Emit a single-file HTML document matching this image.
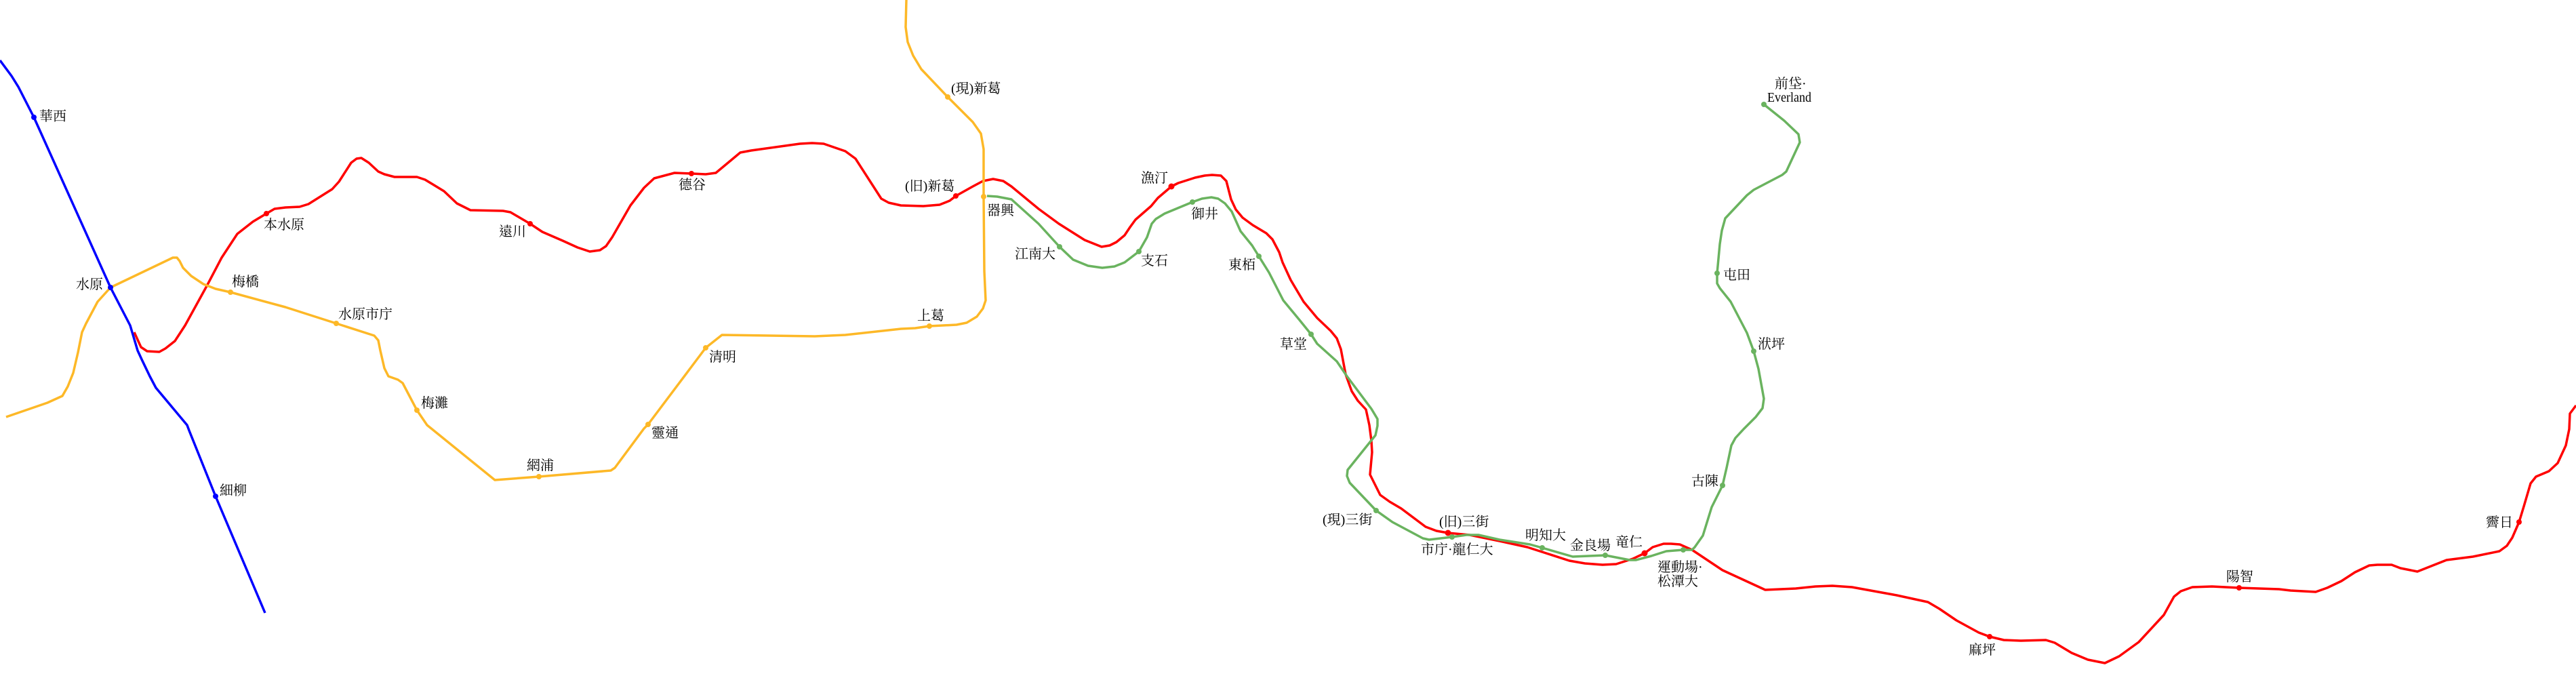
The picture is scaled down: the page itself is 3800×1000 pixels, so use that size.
<!DOCTYPE html>
<html lang="zh-Hant">
<head>
<meta charset="utf-8">
<title>Seoul Metropolitan Rail Map</title>
<style>
html,body{margin:0;padding:0;background:#fff}
svg{display:block}
text{font-family:"Liberation Serif","Noto Serif CJK SC",serif;font-size:20px;fill:#000}
.l{fill:none;stroke-width:3.5;stroke-linejoin:round;stroke-linecap:butt}
</style>
</head>
<body>
<svg xmlns="http://www.w3.org/2000/svg" width="3800" height="1000" viewBox="0 0 3800 1000">
<rect width="3800" height="1000" fill="#fff"/>
<polyline class="l" stroke="#ff0000" points="198,490 208,512 217,518 235,519 244,514 258,503 273,480 306,420 327,380 350,345 373,327 393,315 405,308 421,306 442,305 455,301 490,279 500,268 518,240 526,234 533,233 544,240 558,253 567,257 582,261 615,261 627,265 655,282 674,300 694,310 742,311 753,313 782,330 800,342 830,355 852,365 870,371 885,369 894,363 903,350 930,303 950,277 965,263 995,255 1020,256 1041,257 1056,255 1068,245 1092,225 1108,222 1180,212 1198,211 1215,212 1247,223 1262,234 1300,293 1311,299 1329,303 1362,304 1386,302 1401,296 1410,289 1435,275 1450,267 1465,264 1480,267 1492,275 1532,308 1562,330 1600,354 1625,364 1637,362 1647,357 1659,347 1667,335 1675,324 1698,304 1708,292 1728,275 1738,270 1763,262 1777,259 1788,258 1801,259 1809,267 1816,294 1823,309 1833,321 1848,332 1868,344 1877,353 1887,372 1892,387 1904,413 1923,445 1943,469 1963,488 1972,499 1978,515 1985,552 1994,577 2003,591 2015,604 2020,627 2023,650 2024,667 2021,700 2036,730 2050,740 2067,750 2103,777 2119,783 2136,786 2168,789 2212,798 2253,807 2284,817 2315,827 2338,831 2364,833 2384,832 2409,824 2426,816 2438,807 2454,802 2465,802 2478,803 2496,811 2541,841 2604,870 2649,868 2678,865 2703,864 2732,866 2798,878 2844,888 2861,898 2886,915 2919,933 2935,939 2956,944 2981,945 3018,944 3031,948 3056,963 3080,973 3105,978 3126,968 3155,947 3192,907 3207,880 3217,872 3234,866 3263,865 3303,867 3362,869 3379,871 3416,873 3433,867 3454,857 3474,844 3495,834 3507,833 3528,833 3541,838 3566,843 3609,826 3648,821 3687,813 3698,805 3706,793 3716,770 3723,747 3733,713 3741,703 3760,695 3773,683 3785,657 3790,633 3791,610 3800,598"/>
<polyline class="l" stroke="#fdb827" points="9,615 70,594 92,584 100,570 108,550 115,520 121,490 127,477 144,445 163,424 255,380 261,380 265,385 270,395 282,407 300,419 318,426 340,431 421,453 496,477 552,495 558,502 561,517 567,543 573,555 587,560 594,565 615,605 630,627 730,708 795,703 901,694 907,690 950,632 956,626 1041,513 1065,494 1202,496 1247,494 1329,485 1350,484 1371,481 1411,479 1426,476 1441,467 1450,455 1454,443 1452,400 1451,290 1451,220 1447,197 1435,180 1398,143 1359,102 1347,82 1339,62 1336,40 1337,0"/>
<polyline class="l" stroke="#6ab35f" points="1456,289 1471,290 1492,294 1532,330 1563,364 1583,383 1605,392 1626,395 1644,393 1659,387 1680,371 1692,350 1699,330 1705,323 1718,315 1759,298 1773,293 1787,291 1797,293 1807,300 1817,312 1830,341 1847,362 1857,378 1872,402 1893,443 1917,472 1934,493 1943,507 1972,533 1987,555 2023,603 2032,618 2032,628 2029,642 1988,693 1987,702 1991,712 2030,753 2054,770 2099,794 2108,796 2142,792 2163,789 2181,789 2212,796 2257,803 2275,808 2320,821 2368,819 2404,826 2413,826 2436,820 2458,813 2483,811 2496,811 2500,807 2512,790 2525,748 2541,716 2547,690 2554,657 2560,646 2572,633 2590,615 2600,602 2602,588 2594,544 2587,518 2577,491 2553,445 2537,425 2533,418 2533,403 2537,360 2540,340 2545,322 2577,288 2587,280 2629,258 2635,253 2655,210 2653,198 2632,178 2602,154"/>
<polyline class="l" stroke="#0000ff" points="0,89 17,112 27,128 50,173 163,424 192,480 203,517 209,530 221,555 230,572 276,627 279,635 318,732 391,904"/>
<g fill="#0000ff"><circle cx="50" cy="173" r="4"/><circle cx="163" cy="424" r="4"/><circle cx="318" cy="732" r="4"/></g>
<g fill="#fdb827"><circle cx="340" cy="431" r="4"/><circle cx="496" cy="477" r="4"/><circle cx="615" cy="605" r="4"/><circle cx="795" cy="703" r="4"/><circle cx="956" cy="626" r="4"/><circle cx="1041" cy="513" r="4"/><circle cx="1371" cy="481" r="4"/><circle cx="1451" cy="290" r="4"/><circle cx="1398" cy="143" r="4"/></g>
<g fill="#ff0000"><circle cx="393" cy="315" r="4"/><circle cx="782" cy="330" r="4"/><circle cx="1020" cy="256" r="4"/><circle cx="1410" cy="289" r="4"/><circle cx="1728" cy="275" r="4.5"/><circle cx="2136" cy="786" r="4.5"/><circle cx="2426" cy="816" r="4.5"/><circle cx="2935" cy="939" r="4"/><circle cx="3303" cy="867" r="4"/><circle cx="3716" cy="770" r="4"/></g>
<g fill="#6ab35f"><circle cx="1563" cy="364" r="4"/><circle cx="1680" cy="371" r="4"/><circle cx="1759" cy="298" r="4"/><circle cx="1857" cy="378" r="4"/><circle cx="1934" cy="493" r="4"/><circle cx="2030" cy="753" r="4"/><circle cx="2142" cy="792" r="4"/><circle cx="2275" cy="808" r="4"/><circle cx="2368" cy="819" r="4"/><circle cx="2483" cy="811" r="4"/><circle cx="2541" cy="716" r="4"/><circle cx="2587" cy="518" r="4"/><circle cx="2533" cy="403" r="4"/><circle cx="2602" cy="154" r="4"/></g>
<text x="58" y="178">華西</text>
<text x="112" y="426">水原</text>
<text x="389" y="338">本水原</text>
<text x="736" y="348">遠川</text>
<text x="342" y="422">梅橋</text>
<text x="499" y="470">水原市庁</text>
<text x="621" y="601">梅灘</text>
<text x="777" y="693">網浦</text>
<text x="324" y="730">細柳</text>
<text x="1403" y="137">(現)新葛</text>
<text x="1001" y="279">德谷</text>
<text x="1335" y="281">(旧)新葛</text>
<text x="1456" y="317">器興</text>
<text x="1497" y="381">江南大</text>
<text x="1683" y="269">漁汀</text>
<text x="1757" y="322">御井</text>
<text x="1683" y="391">支石</text>
<text x="1812" y="397">東栢</text>
<text x="1888" y="514">草堂</text>
<text x="1353" y="472">上葛</text>
<text x="1046" y="533">清明</text>
<text x="961" y="645">靈通</text>
<text x="1951" y="773">(現)三街</text>
<text x="2123" y="776">(旧)三街</text>
<text x="2096" y="817">市庁·龍仁大</text>
<text x="2250" y="796">明知大</text>
<text x="2316" y="811">金良場</text>
<text x="2383" y="806">竜仁</text>
<text x="2445" y="843">運動場·</text>
<text x="2445" y="864">松潭大</text>
<text x="2495" y="716">古陳</text>
<text x="2618" y="130">前垈·</text>
<text x="2607" y="150" textLength="65" lengthAdjust="spacingAndGlyphs">Everland</text>
<text x="2542" y="412">屯田</text>
<text x="2593" y="514">洑坪</text>
<text x="2904" y="965">麻坪</text>
<text x="3284" y="857">陽智</text>
<text x="3667" y="777">霽日</text>
</svg>
</body>
</html>
